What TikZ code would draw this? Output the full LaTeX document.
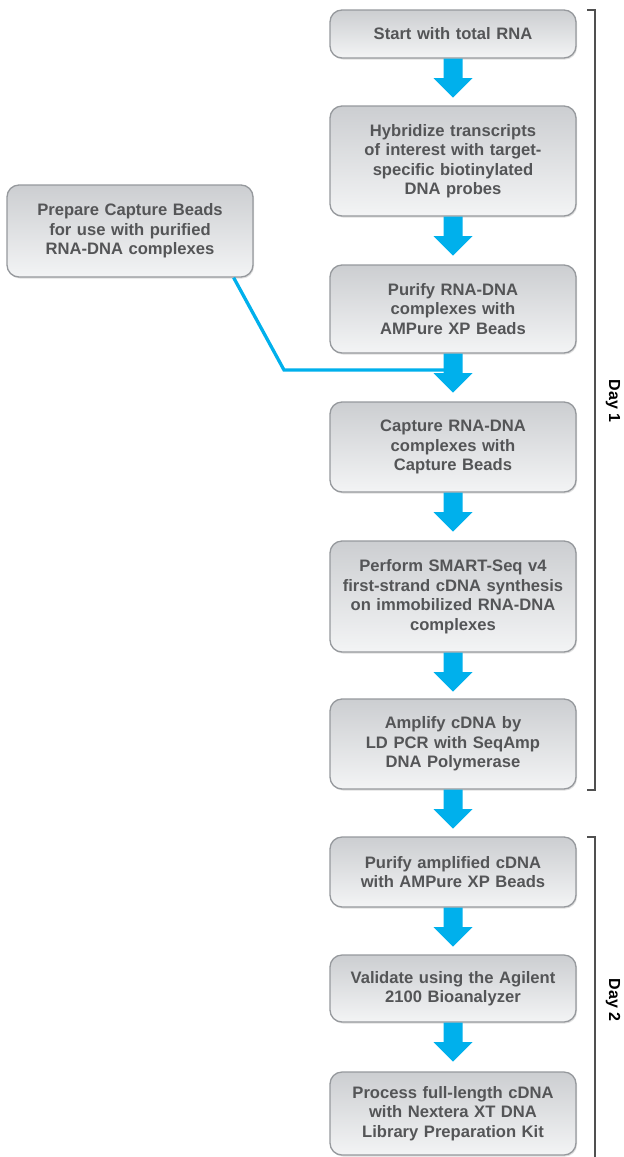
\documentclass[tikz,border=0pt]{standalone}
\usepackage{fontspec}
\setmainfont{Liberation Sans}
\usetikzlibrary{calc,shadows}
\definecolor{boxtop}{RGB}{204,206,209}
\definecolor{boxbot}{RGB}{243,244,245}
\definecolor{boxline}{RGB}{150,153,157}
\definecolor{txtc}{RGB}{84,85,87}
\definecolor{arrc}{RGB}{0,176,236}
\definecolor{brc}{RGB}{80,80,80}
\tikzset{
  stepbox/.style={draw=boxline, line width=1.3pt, rounded corners=12pt,
    top color=boxtop, bottom color=boxbot, minimum width=246pt,
    text width=240pt, align=center, inner sep=0pt,
    font=\fontsize{16.6}{19.5}\selectfont\bfseries, text=txtc,
    drop shadow={shadow xshift=1pt, shadow yshift=-1.5pt, opacity=0.25}},
  conn/.style={draw=arrc, line width=3.3pt},
  bracket/.style={draw=brc, line width=1.2pt},
  daylabel/.style={rotate=-90, font=\fontsize{16}{19}\selectfont\bfseries, text=black, inner sep=0pt}
}
\newcommand\blockarr[1]{%
  \fill[arrc] ($(#1.south)+(-9.5,0)$) -- ++(0,-19.5) -- ++(-10,0)
    -- ($(#1.south)+(0,-39)$) -- ($(#1.south)+(19.5,-19.5)$)
    -- ($(#1.south)+(9.5,-19.5)$) -- ($(#1.south)+(9.5,0)$) -- cycle;}
\begin{document}
\begin{tikzpicture}[x=1pt,y=1pt]
\useasboundingbox (0,0) rectangle (624,-1157);
\fill[white] (0,0) rectangle (624,-1157);

\node[stepbox, minimum height=48pt] (b1) at (453,-34) {Start with total RNA};
\node[stepbox, minimum height=110pt] (b2) at (453,-161) {Hybridize transcripts\\of interest with target-\\specific biotinylated\\DNA probes};
\node[stepbox, minimum height=88pt] (b3) at (453,-309) {Purify RNA-DNA\\complexes with\\AMPure XP Beads};
\node[stepbox, minimum height=90pt] (b4) at (453,-447) {Capture RNA-DNA\\complexes with\\Capture Beads};
\node[stepbox, minimum height=111pt] (b5) at (453,-596.5) {Perform SMART-Seq v4\\first-strand cDNA synthesis\\on immobilized RNA-DNA\\complexes};
\node[stepbox, minimum height=90pt] (b6) at (453,-744) {Amplify cDNA by\\LD PCR with SeqAmp\\DNA Polymerase};
\node[stepbox, minimum height=70pt] (b7) at (453,-872) {Purify amplified cDNA\\with AMPure XP Beads};
\node[stepbox, minimum height=67pt] (b8) at (453,-988.5) {Validate using the Agilent\\2100 Bioanalyzer};
\node[stepbox, minimum height=83pt] (b9) at (453,-1113.5) {Process full-length cDNA\\with Nextera XT DNA\\Library Preparation Kit};
\node[stepbox, minimum height=92pt] (prep) at (130,-231) {Prepare Capture Beads\\for use with purified\\RNA-DNA complexes};

% side connector
\coordinate (j0) at ($(prep.south east)+(-20,0)$);
\coordinate (j1) at (284,-370);
\coordinate (j2) at (446,-370);
\draw[conn] (j0) -- (j1) -- (j2);

% block arrows
\blockarr{b1}
\blockarr{b2}
\blockarr{b3}
\blockarr{b4}
\blockarr{b5}
\blockarr{b6}
\blockarr{b7}
\blockarr{b8}

% brackets
\coordinate (d1t) at (587,-10);
\coordinate (d1b) at (587,-790);
\draw[bracket] (d1t) -- (595,-10) -- (595,-790) -- (d1b);
\coordinate (d2t) at (587,-837);
\coordinate (d2b) at (595,-1157);
\draw[bracket] (d2t) -- (595,-837) -- (d2b);
\node[daylabel] (day1) at (613,-401) {Day 1};
\node[daylabel] (day2) at (613,-1000) {Day 2};
\end{tikzpicture}
\end{document}
